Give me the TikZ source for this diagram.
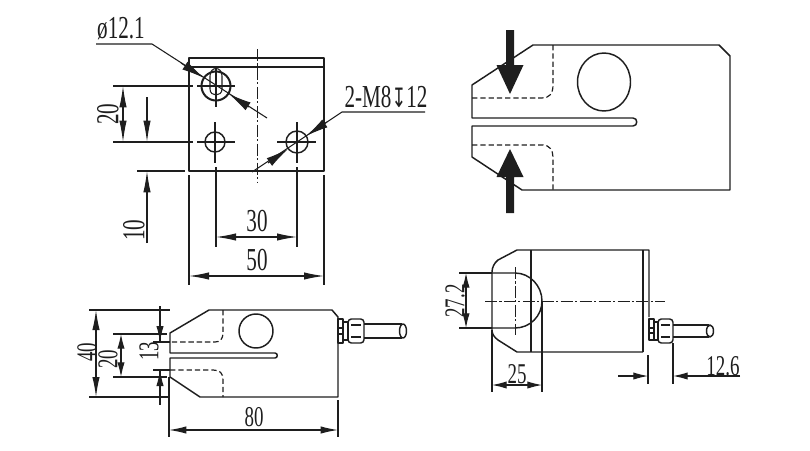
\documentclass[tikz,border=0pt]{standalone}
\usepackage{graphicx}
\usepackage{fontspec}
\setmainfont{Liberation Serif}
\newfontfamily\symfont{DejaVu Sans}
\usetikzlibrary{arrows.meta}
\definecolor{ink}{HTML}{1E1E1E}
\newcommand{\dt}[1]{\scalebox{.66}[1]{#1}}
\tikzset{
  body/.style={draw=ink,line width=1.1pt,line join=round},
  thin/.style={draw=ink,line width=.8pt},
  hid/.style={draw=ink,line width=.9pt,dash pattern=on 4pt off 2.2pt},
  axis/.style={draw=ink,line width=.65pt,dash pattern=on 9pt off 1.8pt on 1.6pt off 1.8pt},
  dimb/.style={thin,{Latex[length=#1,width=5.5pt]}-{Latex[length=#1,width=5.5pt]}},
  dimb/.default=15pt,
  dimr/.style={thin,-{Latex[length=#1,width=5.5pt]}},
  dimr/.default=15pt,
  leadarr/.style={thin,-{Latex[length=17pt,width=7pt]}},
  lbl/.style={text=ink,inner sep=0pt,font=\fontsize{24}{24}\selectfont},
  lbls/.style={text=ink,inner sep=0pt,font=\fontsize{21.5}{21.5}\selectfont},
  lblr/.style={lbl,rotate=90},
  lblsr/.style={lbls,rotate=90},
  force/.style={draw=none,fill=ink}
}
\begin{document}
\begin{tikzpicture}[x=.75pt,y=-.75pt]
\useasboundingbox (0,0) rectangle (810,450);
% ---------- top-left view
\draw[body] (189,58) rectangle (324,171);
\draw[thin] (189,67) -- (324,67);
\draw[axis] (257,49) -- (257,182);
\draw[body,line width=1.5pt] (216,86) circle (14.5);
\draw[thin] (210,76) .. controls (210,66) and (222,66) .. (222,76) -- (222,89) .. controls (222,97) and (210,97) .. (210,89) -- cycle;
\draw[body] (215,142) circle (10);
\draw[body] (297,142) circle (11);
\draw[thin] (197,86) -- (235,86) (216,67) -- (216,107);
\draw[thin] (197,142) -- (235,142) (215,122) -- (215,163);
\draw[thin] (277,142) -- (316,142) (297,122) -- (297,163);
% leaders
\draw[thin] (96,44) -- (152,44) -- (267,118);
\draw[leadarr] (181,63) -- (204,78);
\draw[leadarr] (249,107) -- (229,94);
\draw[thin] (425,112) -- (342,112) -- (252,172);
\draw[leadarr] (327,122) -- (306,136);
\draw[leadarr] (268,163) -- (288,149);
\node[lbl] (phi) at (121,29) {\dt{ø12.1}};
\node[lbl] (depth) at (386,97) {\dt{2-M8{\symfont\fontsize{20}{20}\selectfont ↧}12}};
% dims
\draw[thin] (113,86) -- (193,86) (113,142) -- (193,142) (137,171) -- (185,171);
\draw[dimb=16pt] (123,86) -- (123,142);
\node[lblr] (d20a) at (108,114) {\dt{20}};
\draw[dimr=16pt] (147,97) -- (147,142);
\draw[dimr=16pt] (147,243) -- (147,171);
\node[lblr] (d10) at (134,230) {\dt{10}};
\draw[thin] (216,167) -- (216,247) (297,167) -- (297,247);
\draw[dimb=15pt] (216,237) -- (297,237);
\node[lbl] (d30) at (257,221) {\dt{30}};
\draw[thin] (189,175) -- (189,285) (324,175) -- (324,285);
\draw[dimb=15pt] (189,276) -- (324,276);
\node[lbl] (d50) at (257,260) {\dt{50}};
% ---------- bottom-left view
\draw[body] (209,310) -- (332,310) -- (338,317) -- (338,397) -- (200,397) -- (170,377) -- (170,358) -- (275,358) .. controls (278,358) and (278,353) .. (275,353) -- (170,353) -- (170,333) -- cycle;
\draw[hid] (223,310) -- (223,333) .. controls (223,339) and (220,342) .. (215,342) -- (170,342);
\draw[hid] (170,370) -- (213,370) .. controls (220,370) and (223,373) .. (223,380) -- (223,397);
\draw[body] (256,331) circle (17);
\draw[thin] (169,377) -- (169,437) (338,400) -- (338,437);
\draw[dimb=13pt] (169,430) -- (338,430);
\node[lbls] (d80) at (254,417) {\dt{80}};
\draw[thin] (89,310) -- (170,310) (89,397) -- (170,397);
\draw[dimb=15pt] (96,310) -- (96,397);
\node[lblsr] (d40) at (87,352) {\dt{40}};
\draw[thin] (113,334) -- (167,334) (113,377) -- (167,377);
\draw[dimb=11pt] (121,334) -- (121,377);
\node[lblsr] (d20b) at (108,359) {\dt{20}};
\draw[thin] (153,342) -- (170,342) (153,370) -- (170,370);
\draw[thin] (160,306) -- (160,342) (160,370) -- (160,405);
\draw[dimr=12pt] (160,320) -- (160,342);
\draw[dimr=12pt] (160,392) -- (160,370);
\node[lblsr] (d13) at (149,351) {\dt{13}};
% connector
\draw[body] (338,319) rectangle (343,343);
\draw[thin] (338,328) -- (343,328) (338,334) -- (343,334);
\draw[body] (343,322) rectangle (348,340);
\draw[body,rounded corners=2.5pt] (348,319) rectangle (364,343);
\draw[thin] (351,325) -- (361,325) (351,337) -- (361,337);
\draw[body] (364,324) -- (402,324) (364,338) -- (402,338);
\draw[body] (403,331) ellipse (3.5 and 7);
% ---------- top-right view
\draw[body] (533,45) -- (719,45) -- (730,56) -- (730,190) -- (522,190) -- (472,157) -- (472,126) -- (633,126) .. controls (638,126) and (638,118) .. (633,118) -- (472,118) -- (472,85) -- cycle;
\draw[hid] (553,45) -- (553,85) .. controls (553,94) and (549,98) .. (542,98) -- (472,98);
\draw[hid] (472,145) -- (543,145) .. controls (549,145) and (553,150) .. (553,157) -- (553,190);
\draw[body] (604,82) ellipse (26.5 and 29);
\fill[force] (506,30) -- (514,30) -- (514,65) -- (523.5,65) -- (510,94) -- (496.5,65) -- (506,65) -- cycle;
\fill[force] (506,213) -- (514,213) -- (514,177) -- (523.5,177) -- (510,149) -- (496.5,177) -- (506,177) -- cycle;
% ---------- bottom-right view
\draw[body] (649,317) -- (649,250) -- (517,250) -- (498,260) .. controls (494,263) and (492,268) .. (492,272) -- (492,330) .. controls (492,334) and (494,337) .. (498,340) -- (517,352) -- (643,352);
\draw[body] (643,250) -- (643,352) (531,250) -- (531,352);
\draw[body] (492,273) -- (515,273) .. controls (530,273) and (542,286) .. (542,301) .. controls (542,316) and (530,328) .. (515,328) -- (492,328);
\draw[axis] (485,301) -- (665,301);
\draw[axis] (515,267) -- (515,335);
\draw[thin] (459,273) -- (492,273) (459,328) -- (492,328);
\draw[dimb=11pt] (466,273) -- (466,328);
\node[lblsr] (d272) at (455,301) {\dt{27.2}};
\draw[thin] (492,330) -- (492,392) (542,302) -- (542,392);
\draw[dimb=11pt] (492,385) -- (542,385);
\node[lbls] (d25) at (517,374) {\dt{25}};
\draw[body] (649,319) rectangle (654,340);
\draw[thin] (649,328) -- (654,328) (649,333) -- (654,333);
\draw[body] (654,322) rectangle (658,340);
\draw[body,rounded corners=2.5pt] (658,319) rectangle (673,343);
\draw[thin] (661,325) -- (670,325) (661,337) -- (670,337);
\draw[body] (673,325) -- (709,325) (673,337) -- (709,337);
\draw[body] (710,331) ellipse (3.5 and 6);
\draw[thin] (648,355) -- (648,384) (673,343) -- (673,384);
\draw[thin,-{Latex[length=11pt,width=5.5pt]}] (618,376) -- (648,376);
\draw[thin,-{Latex[length=11pt,width=5.5pt]}] (740,376) -- (673,376);
\node[lbls] (d126) at (723,366) {\dt{12.6}};
\end{tikzpicture}
\end{document}
